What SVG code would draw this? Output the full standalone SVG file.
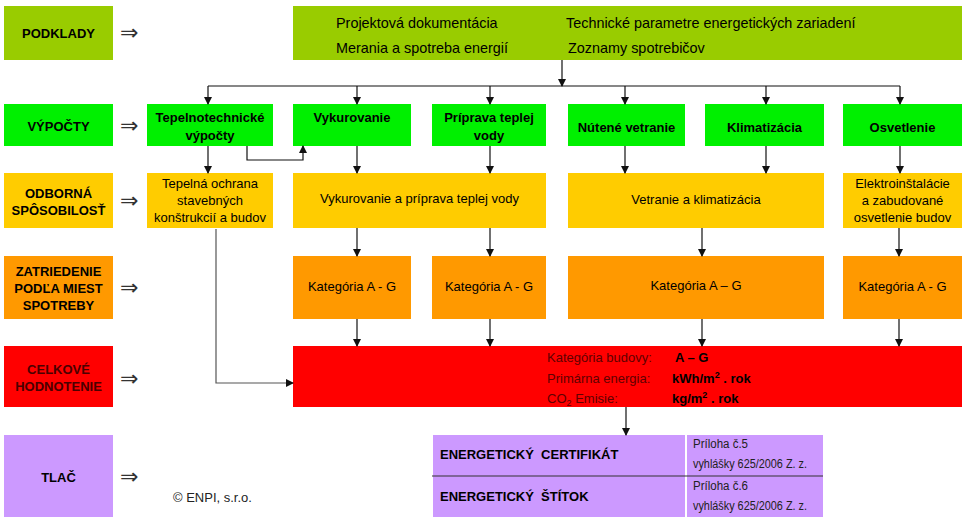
<svg xmlns="http://www.w3.org/2000/svg" width="966" height="522" viewBox="0 0 966 522">
<defs>
<style>
text{font-family:"Liberation Sans",Arial,sans-serif;fill:#000}
.b{font-weight:bold;font-size:13px}
.r{font-size:13px}
.t{font-size:14.4px}
.m{text-anchor:middle}
.s{font-size:12px;fill:#222}
.dr{font-size:13px;fill:#600000}
.arr{font-family:"DejaVu Sans",sans-serif;font-size:22px;fill:#333}
.c{fill:none;stroke:#111;stroke-width:1.2}
.g1{fill:#99CC00}.g2{fill:#00F000}.y{fill:#FFCC00}.o{fill:#FF9900}.rd{fill:#FF0000}.p{fill:#CC99FF}
</style>
<marker id="ah" markerWidth="8" markerHeight="8" refX="7" refY="4" orient="auto" markerUnits="userSpaceOnUse">
<path d="M0,0 L8,4 L0,8 z" fill="#111"/>
</marker>
</defs>
<rect width="966" height="522" fill="#fff"/>

<!-- Left labels -->
<g id="lbl-podklady"><rect class="g1" x="4" y="6" width="109" height="54"/><text class="b m" x="58.5" y="38">PODKLADY</text></g>
<g id="lbl-vypocty"><rect class="g2" x="4" y="104" width="109" height="42"/><text class="b m" x="58.5" y="131">VÝPOČTY</text></g>
<g id="lbl-odborna"><rect class="y" x="4" y="173" width="109" height="55"/><text class="b m" x="58.5" y="198">ODBORNÁ</text><text class="b m" x="58.5" y="215">SPÔSOBILOSŤ</text></g>
<g id="lbl-zatriedenie"><rect class="o" x="4" y="256" width="109" height="63"/><text class="b m" x="58.5" y="276">ZATRIEDENIE</text><text class="b m" x="58.5" y="293">PODĽA MIEST</text><text class="b m" x="58.5" y="310">SPOTREBY</text></g>
<g id="lbl-celkove"><rect class="rd" x="4" y="346" width="109" height="61"/><text class="b m" x="58.5" y="374" style="fill:#4a0000">CELKOVÉ</text><text class="b m" x="58.5" y="391" style="fill:#4a0000">HODNOTENIE</text></g>
<g id="lbl-tlac"><rect class="p" x="4" y="435" width="109" height="82"/><text class="b m" x="58.5" y="482">TLAČ</text></g>

<g id="implies">
<text class="arr" x="120" y="40">⇒</text>
<text class="arr" x="120" y="133">⇒</text>
<text class="arr" x="120" y="208">⇒</text>
<text class="arr" x="120" y="295">⇒</text>
<text class="arr" x="120" y="386">⇒</text>
<text class="arr" x="120" y="484">⇒</text>
</g>

<!-- Podklady box -->
<g id="podklady">
<rect class="g1" x="293" y="6" width="669" height="54"/>
<text class="t" x="336" y="28">Projektová dokumentácia</text>
<text class="t" x="566" y="28">Technické parametre energetických zariadení</text>
<text class="t" x="336" y="53">Merania a spotreba energií</text>
<text class="t" x="568" y="53">Zoznamy spotrebičov</text>
</g>

<!-- Výpočty -->
<g id="v-tepelno"><rect class="g2" x="147" y="104" width="126" height="42"/><text class="b m" x="210" y="122">Tepelnotechnické</text><text class="b m" x="210" y="140">výpočty</text></g>
<g id="v-vykur"><rect class="g2" x="293" y="104" width="118" height="42"/><text class="b m" x="352" y="122">Vykurovanie</text></g>
<g id="v-priprava"><rect class="g2" x="432" y="104" width="114" height="42"/><text class="b m" x="489" y="122">Príprava teplej</text><text class="b m" x="489" y="140">vody</text></g>
<g id="v-nutene"><rect class="g2" x="568" y="104" width="117" height="42"/><text class="b m" x="626.5" y="132">Nútené vetranie</text></g>
<g id="v-klima"><rect class="g2" x="705" y="104" width="119" height="42"/><text class="b m" x="764.5" y="132">Klimatizácia</text></g>
<g id="v-osvet"><rect class="g2" x="843" y="104" width="119" height="42"/><text class="b m" x="902.5" y="132">Osvetlenie</text></g>

<!-- Odborná -->
<g id="o-tepelna"><rect class="y" x="147" y="173" width="126" height="55"/><text class="r m" x="210" y="188">Tepelná ochrana</text><text class="r m" x="210" y="205">stavebných</text><text class="r m" x="210" y="222">konštrukcií a budov</text></g>
<g id="o-vykur"><rect class="y" x="293" y="173" width="253" height="55"/><text class="r m" x="419.5" y="203">Vykurovanie a príprava teplej vody</text></g>
<g id="o-vetranie"><rect class="y" x="568" y="173" width="256" height="55"/><text class="r m" x="696" y="204">Vetranie a klimatizácia</text></g>
<g id="o-elektro"><rect class="y" x="843" y="173" width="119" height="55"/><text class="r m" x="902.5" y="188">Elektroinštalácie</text><text class="r m" x="902.5" y="205">a zabudované</text><text class="r m" x="902.5" y="222">osvetlenie budov</text></g>

<!-- Zatriedenie -->
<g id="z-1"><rect class="o" x="293" y="256" width="118" height="63"/><text class="r m" x="352" y="291">Kategória A - G</text></g>
<g id="z-2"><rect class="o" x="432" y="256" width="114" height="63"/><text class="r m" x="489" y="291">Kategória A - G</text></g>
<g id="z-3"><rect class="o" x="568" y="256" width="256" height="63"/><text class="r m" x="696" y="290">Kategória A – G</text></g>
<g id="z-4"><rect class="o" x="843" y="256" width="119" height="63"/><text class="r m" x="902.5" y="291">Kategória A - G</text></g>

<!-- Celkové -->
<g id="celkove">
<rect class="rd" x="293" y="346" width="669" height="61"/>
<text class="dr" x="547" y="362">Kategória budovy:</text>
<text class="dr" x="547" y="383">Primárna energia:</text>
<text class="dr" x="547" y="403">CO<tspan font-size="9" dy="3">2</tspan><tspan dy="-3"> Emisie:</tspan></text>
<text class="b" x="675" y="362">A – G</text>
<text class="b" x="672" y="383">kWh/m<tspan font-size="9" dy="-5">2</tspan><tspan dy="5"> . rok</tspan></text>
<text class="b" x="672" y="403">kg/m<tspan font-size="9" dy="-5">2</tspan><tspan dy="5"> . rok</tspan></text>
</g>

<!-- Tlač -->
<g id="tlac">
<rect class="p" x="433" y="435" width="252" height="82"/>
<rect class="p" x="687" y="435" width="136" height="82"/>
<line x1="432" y1="476" x2="823" y2="476" stroke="#333" stroke-width="1.2"/>
<text class="b" x="440" y="459" xml:space="preserve">ENERGETICKÝ  CERTIFIKÁT</text>
<text class="b" x="440" y="501" xml:space="preserve">ENERGETICKÝ  ŠTÍTOK</text>
<text class="s" x="693" y="448" textLength="55" lengthAdjust="spacingAndGlyphs">Príloha č.5</text>
<text class="s" x="693" y="468" textLength="114" lengthAdjust="spacingAndGlyphs">vyhlášky 625/2006 Z. z.</text>
<text class="s" x="693" y="490" textLength="55" lengthAdjust="spacingAndGlyphs">Príloha č.6</text>
<text class="s" x="693" y="510" textLength="114" lengthAdjust="spacingAndGlyphs">vyhlášky 625/2006 Z. z.</text>
</g>

<g id="copyright"><text class="r" x="173" y="502" style="fill:#222">© ENPI, s.r.o.</text></g>

<!-- Connectors -->
<g id="connectors">
<path class="c" d="M562,60 V86" marker-end="url(#ah)"/>
<path class="c" d="M208,86 H900"/>
<path class="c" d="M208,86 V104" marker-end="url(#ah)"/>
<path class="c" d="M357,86 V104" marker-end="url(#ah)"/>
<path class="c" d="M490,86 V104" marker-end="url(#ah)"/>
<path class="c" d="M625,86 V104" marker-end="url(#ah)"/>
<path class="c" d="M766,86 V104" marker-end="url(#ah)"/>
<path class="c" d="M900,86 V104" marker-end="url(#ah)"/>

<path class="c" d="M208,146 V173" marker-end="url(#ah)"/>
<path class="c" d="M357,146 V173" marker-end="url(#ah)"/>
<path class="c" d="M490,146 V173" marker-end="url(#ah)"/>
<path class="c" d="M625,146 V173" marker-end="url(#ah)"/>
<path class="c" d="M766,146 V173" marker-end="url(#ah)"/>
<path class="c" d="M900,146 V173" marker-end="url(#ah)"/>
<path class="c" d="M247,146 V160 H303 V146" marker-end="url(#ah)"/>

<path class="c" d="M357,228 V256" marker-end="url(#ah)"/>
<path class="c" d="M490,228 V256" marker-end="url(#ah)"/>
<path class="c" d="M702,228 V256" marker-end="url(#ah)"/>
<path class="c" d="M899,228 V256" marker-end="url(#ah)"/>

<path class="c" d="M357,319 V346" marker-end="url(#ah)"/>
<path class="c" d="M490,319 V346" marker-end="url(#ah)"/>
<path class="c" d="M702,319 V346" marker-end="url(#ah)"/>
<path class="c" d="M899,319 V346" marker-end="url(#ah)"/>

<path class="c" d="M216,229 V383 H293" style="stroke:#555" marker-end="url(#ah)"/>
<path class="c" d="M626,407 V435" marker-end="url(#ah)"/>
</g>
</svg>
